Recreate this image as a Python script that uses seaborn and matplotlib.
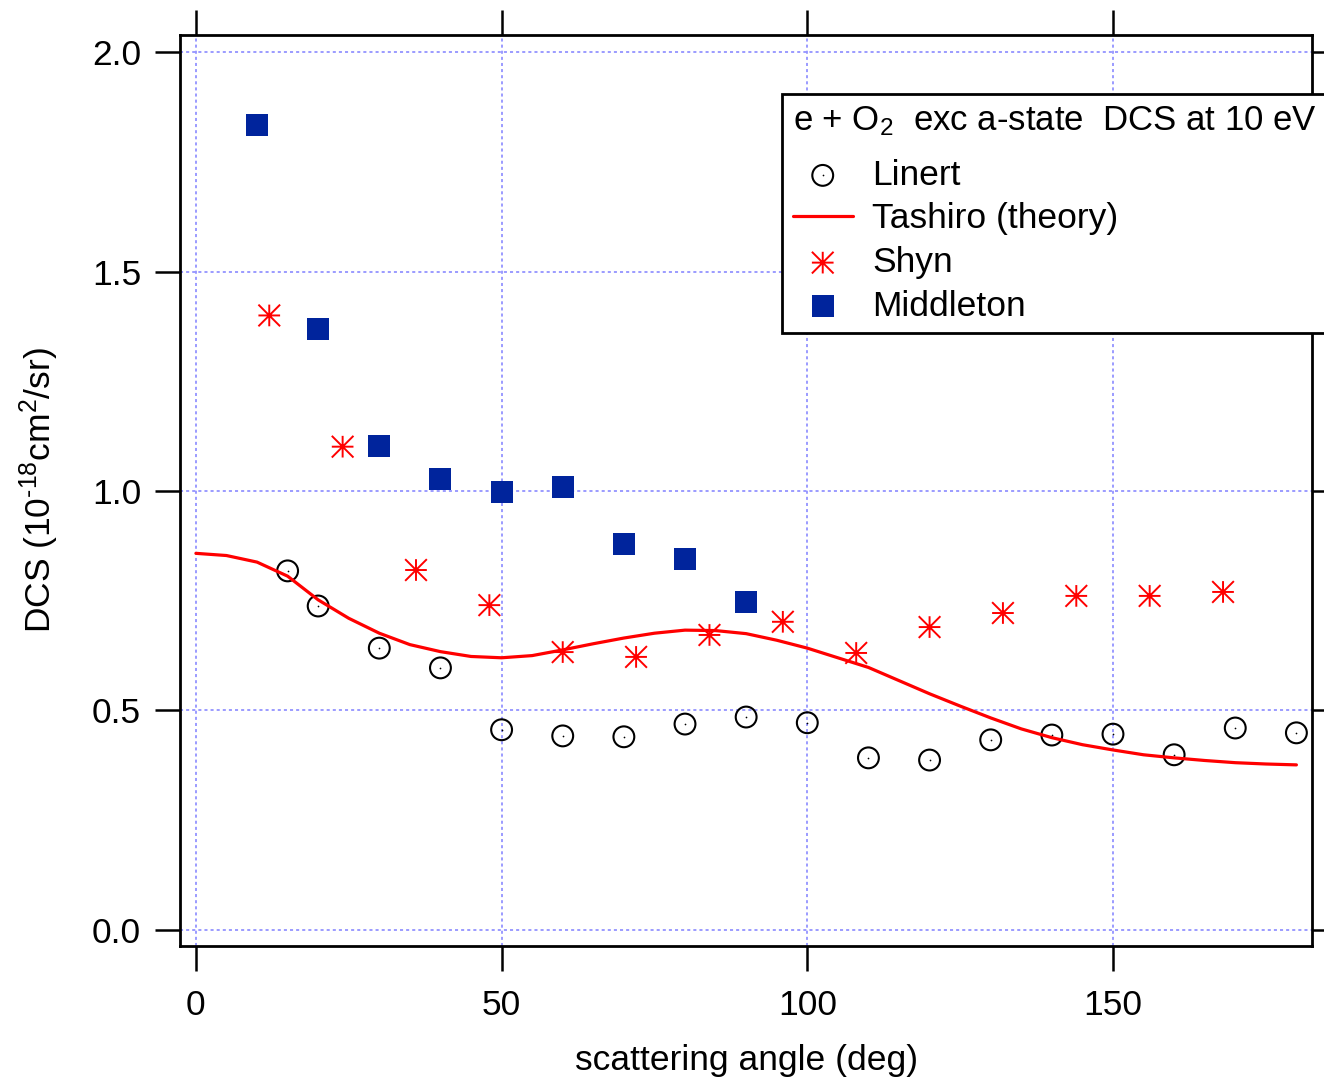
import numpy as np
import matplotlib
matplotlib.use("Agg")
import matplotlib.pyplot as plt
import seaborn as sns
from matplotlib.path import Path

# Linert (open circles)
linert_angle = [15, 20, 30, 40, 50, 60, 70, 80, 90, 100, 110, 120, 130, 140, 150, 160, 170, 180]
linert_dcs = [0.818, 0.738, 0.642, 0.597, 0.456, 0.442, 0.440, 0.469, 0.485, 0.472,
              0.392, 0.387, 0.433, 0.444, 0.446, 0.399, 0.460, 0.449]

# Tashiro theory curve (read every 5 deg)
tashiro_angle = list(range(0, 181, 5))
tashiro_dcs = [0.858, 0.853, 0.838, 0.806, 0.752, 0.710, 0.676, 0.650, 0.634, 0.623,
               0.620, 0.625, 0.638, 0.652, 0.665, 0.676, 0.683, 0.682, 0.675, 0.660,
               0.642, 0.620, 0.598, 0.568, 0.538, 0.510, 0.483, 0.458, 0.438, 0.422,
               0.410, 0.399, 0.392, 0.386, 0.381, 0.378, 0.376]

# Shyn (asterisks)
shyn_angle = [12, 24, 36, 48, 60, 72, 84, 96, 108, 120, 132, 144, 156, 168]
shyn_dcs = [1.400, 1.101, 0.820, 0.740, 0.633, 0.622, 0.672, 0.702, 0.631, 0.690,
            0.722, 0.761, 0.761, 0.770]

# Middleton (filled squares)
middleton_angle = [10, 20, 30, 40, 50, 60, 70, 80, 90]
middleton_dcs = [1.833, 1.368, 1.102, 1.027, 0.997, 1.008, 0.879, 0.845, 0.747]

xticks = [0, 50, 100, 150]
yticks = [0.0, 0.5, 1.0, 1.5, 2.0]

FS = 25.5

sns.set_style("ticks")
plt.rcParams["font.family"] = ["Liberation Sans", "DejaVu Sans"]
plt.rcParams["mathtext.fontset"] = "custom"
plt.rcParams["mathtext.rm"] = "Liberation Sans"
plt.rcParams["mathtext.it"] = "Liberation Sans:italic"
plt.rcParams["mathtext.bf"] = "Liberation Sans:bold"
plt.rcParams["text.color"] = "black"
plt.rcParams["axes.labelcolor"] = "black"

fig = plt.figure(figsize=(13.24, 10.79), dpi=100)
ax = fig.add_axes([180 / 1324, 1 - 945.7 / 1079, 1132.3 / 1324, 910.7 / 1079])

# 8-spoke asterisk like the Igor marker
ast = Path([(-1, 0), (1, 0), (0, -1), (0, 1), (-1, -1), (1, 1), (-1, 1), (1, -1)],
           [Path.MOVETO, Path.LINETO] * 4)

sns.scatterplot(x=linert_angle, y=linert_dcs, ax=ax, marker="o", s=15 ** 2,
                facecolors="none", edgecolor="black", linewidths=1.5, legend=False, zorder=3)
h_circ = ax.collections[-1]
sns.scatterplot(x=linert_angle, y=linert_dcs, ax=ax, marker="o", s=1.5,
                color="black", linewidth=0, legend=False, zorder=3)
h_dot = ax.collections[-1]

sns.lineplot(x=tashiro_angle, y=tashiro_dcs, ax=ax, color="#ff0000", linewidth=2.3, zorder=4)
h_line = ax.lines[-1]

sns.scatterplot(x=shyn_angle, y=shyn_dcs, ax=ax, marker=ast, s=15.6 ** 2,
                facecolors="none", edgecolor="#ff0000", linewidths=1.4, legend=False, zorder=5)
h_shyn = ax.collections[-1]

sns.scatterplot(x=middleton_angle, y=middleton_dcs, ax=ax, marker="s", s=16.5 ** 2,
                color="#00249c", edgecolor="#00249c", linewidth=0, legend=False, zorder=6)
h_mid = ax.collections[-1]

ax.set_xlim(-2.6, 182.6)
ax.set_ylim(-0.036, 2.039)
ax.set_xticks(xticks)
ax.set_yticks(yticks)
ax.set_yticklabels([f"{v:.1f}" for v in yticks])

ax.set_axisbelow(True)
ax.grid(True, color="#8080ff", linestyle=(0, (2, 2)), linewidth=1.1)

for sp in ax.spines.values():
    sp.set_linewidth(2.0)
    sp.set_color("black")

ax.tick_params(direction="out", length=18, width=1.8, top=True, right=True,
               labeltop=False, labelright=False, labelsize=FS, colors="black")
ax.tick_params(axis="x", pad=13)
ax.tick_params(axis="y", pad=10)

ax.set_xlabel("scattering angle (deg)", fontsize=FS, labelpad=16)
ax.set_ylabel(r"DCS (10$^{\text{-18}}$cm$^{2}$/sr)", fontsize=FS, labelpad=22)

leg = ax.legend(handles=[(h_circ, h_dot), h_line, h_shyn, h_mid],
                labels=["Linert", "Tashiro (theory)", "Shyn", "Middleton"],
                title="e + O$_2$  exc a-state  DCS at 10 eV",
                loc="upper left", bbox_to_anchor=(782 / 1324, 1 - 94 / 1079),
                bbox_transform=fig.transFigure, borderaxespad=0,
                fontsize=FS, title_fontsize=25, alignment="left",
                frameon=True, fancybox=False, framealpha=1, edgecolor="black",
                handlelength=1.7, handletextpad=0.55, labelspacing=0.3, borderpad=0.3)
leg._legend_box.sep = 0.3 * FS + 7
leg.get_frame().set_linewidth(2.0)
leg.set_zorder(10)

fig.savefig("out.png", dpi=100)
